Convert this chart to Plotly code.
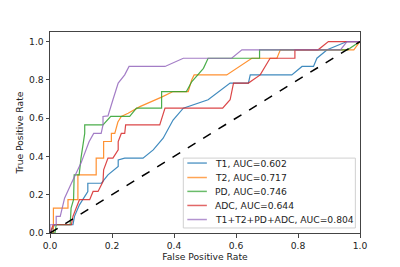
import plotly.graph_objects as go

t1_fpr = [0, 0.015, 0.074, 0.079, 0.095, 0.122, 0.122, 0.166, 0.187, 0.22, 0.22, 0.241, 0.3, 0.333, 0.365, 0.397, 0.43, 0.51, 0.581, 0.64, 0.646, 0.78, 0.813, 0.85, 0.861, 0.894, 0.958, 1.0]
t1_tpr = [0, 0.043, 0.043, 0.087, 0.147, 0.217, 0.26, 0.26, 0.304, 0.347, 0.382, 0.391, 0.391, 0.434, 0.495, 0.59, 0.652, 0.696, 0.783, 0.783, 0.826, 0.826, 0.87, 0.87, 0.913, 0.957, 1.0, 1.0]

t2_fpr = [0, 0.011, 0.011, 0.058, 0.058, 0.09, 0.09, 0.149, 0.149, 0.173, 0.173, 0.198, 0.198, 0.209, 0.219, 0.23, 0.252, 0.29, 0.36, 0.397, 0.446, 0.457, 0.465, 0.57, 0.651, 0.732, 0.743, 0.98, 1.0]
t2_tpr = [0, 0, 0.13, 0.13, 0.174, 0.174, 0.304, 0.304, 0.391, 0.391, 0.478, 0.478, 0.52, 0.52, 0.58, 0.609, 0.626, 0.66, 0.71, 0.739, 0.739, 0.8, 0.826, 0.826, 0.913, 0.913, 0.957, 0.957, 1.0]

pd_fpr = [0, 0.016, 0.02, 0.065, 0.068, 0.076, 0.078, 0.094, 0.1, 0.112, 0.112, 0.171, 0.196, 0.257, 0.279, 0.36, 0.36, 0.44, 0.457, 0.495, 0.51, 0.676, 0.676, 0.96, 1.0]
pd_tpr = [0, 0, 0.043, 0.043, 0.13, 0.174, 0.304, 0.304, 0.391, 0.52, 0.565, 0.565, 0.609, 0.609, 0.652, 0.652, 0.739, 0.739, 0.79, 0.86, 0.913, 0.913, 0.957, 0.957, 1.0]

adc_fpr = [0, 0.01, 0.069, 0.074, 0.095, 0.128, 0.139, 0.155, 0.171, 0.173, 0.187, 0.203, 0.22, 0.22, 0.23, 0.241, 0.244, 0.354, 0.371, 0.557, 0.581, 0.592, 0.64, 0.678, 0.71, 0.79, 0.79, 0.865, 0.898, 1.0]
adc_tpr = [0, 0.043, 0.043, 0.087, 0.174, 0.174, 0.217, 0.217, 0.269, 0.33, 0.391, 0.391, 0.434, 0.478, 0.52, 0.52, 0.565, 0.565, 0.652, 0.652, 0.696, 0.783, 0.783, 0.826, 0.913, 0.913, 0.957, 0.957, 1.0, 1.0]

all_fpr = [0, 0, 0.02, 0.02, 0.033, 0.047, 0.069, 0.1, 0.126, 0.141, 0.165, 0.171, 0.171, 0.187, 0.203, 0.22, 0.241, 0.255, 0.371, 0.43, 0.586, 0.619, 0.937, 0.958, 1.0]
all_tpr = [0, 0.043, 0.043, 0.087, 0.087, 0.182, 0.26, 0.365, 0.477, 0.52, 0.52, 0.565, 0.609, 0.612, 0.696, 0.783, 0.826, 0.87, 0.87, 0.913, 0.913, 0.957, 0.957, 1.0, 1.0]

names = ["T1, AUC=0.602", "T2, AUC=0.717", "PD, AUC=0.746", "ADC, AUC=0.644", "T1+T2+PD+ADC, AUC=0.804"]
colors = ["#1f77b4", "#ff7f0e", "#2ca02c", "#d62728", "#9467bd"]
series = [(t1_fpr, t1_tpr), (t2_fpr, t2_tpr), (pd_fpr, pd_tpr), (adc_fpr, adc_tpr), (all_fpr, all_tpr)]

fig = go.Figure()
for (x, y), n, c in zip(series, names, colors):
    fig.add_trace(go.Scatter(x=x, y=y, mode="lines", name=n, showlegend=False,
                             line=dict(color=c, width=1.2), opacity=0.85))
fig.add_trace(go.Scatter(x=[0, 1], y=[0, 1], mode="lines", showlegend=False,
                         line=dict(color="black", width=1.5, dash="dash")))

axis_common = dict(showline=True, linecolor="#444", linewidth=1, mirror=True,
                   ticks="outside", ticklen=3.5, tickcolor="#444", showgrid=False,
                   zeroline=False, automargin=False, tickfont=dict(size=9.2, color="#222"),
                   title_font=dict(size=9.2, color="#222"))
fig.update_xaxes(range=[0, 1], tickvals=[0, 0.2, 0.4, 0.6, 0.8, 1.0], tickformat=".1f",
                 title_text="False Positive Rate", title_standoff=2, **axis_common)
fig.update_yaxes(range=[0, 1.05], tickvals=[0, 0.2, 0.4, 0.6, 0.8, 1.0], tickformat=".1f",
                 title_text="True Positive Rate", title_standoff=3, **axis_common)

# manual legend (matplotlib style, compact rows)
row_y = [0.348, 0.276, 0.207, 0.137, 0.067]
shapes = [dict(type="rect", xref="paper", yref="paper", x0=0.43, x1=0.985, y0=0.025, y1=0.3726,
               fillcolor="rgba(255,255,255,0.85)", line=dict(color="#d0d0d0", width=1), layer="above")]
annotations = []
for n, c, yy in zip(names, colors, row_y):
    shapes.append(dict(type="line", xref="paper", yref="paper", x0=0.443, x1=0.506, y0=yy, y1=yy,
                       line=dict(color=c, width=1.5), opacity=0.7, layer="above"))
    annotations.append(dict(text=n, xref="paper", yref="paper", x=0.526, y=yy, xanchor="left",
                            yanchor="middle", showarrow=False, font=dict(size=9.2, color="#222")))

fig.update_layout(width=400, height=267, margin=dict(l=50, r=40, t=32, b=34),
                  plot_bgcolor="white", paper_bgcolor="white",
                  font=dict(family="DejaVu Sans", size=9.2, color="#222"),
                  showlegend=False, shapes=shapes, annotations=annotations)
fig.write_html("out.html", config={"displayModeBar": False},
               post_script="document.body.style.margin='0px';document.body.style.overflow='hidden';")
